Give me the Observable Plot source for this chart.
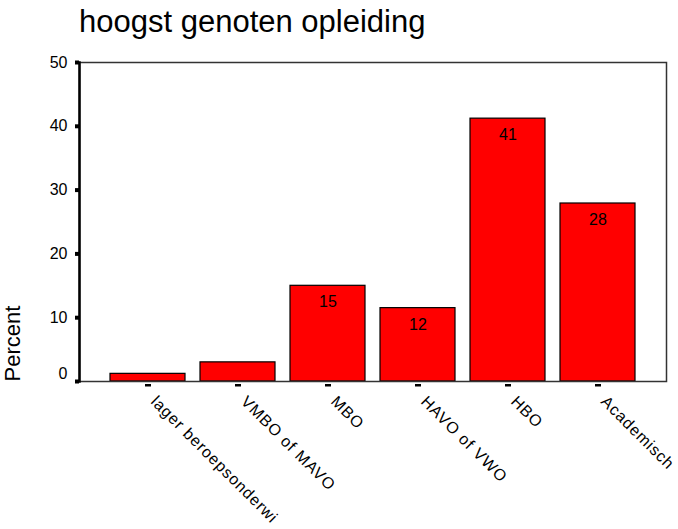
<!DOCTYPE html>
<html><head><meta charset="utf-8">
<script src="https://cdn.jsdelivr.net/npm/d3@7"></script>
<script src="https://cdn.jsdelivr.net/npm/@observablehq/plot@0.6"></script>
<style>
body{margin:0;background:#fff;}
#wrap{width:678px;height:529px;position:relative;overflow:hidden;font-family:"Liberation Sans",Arial,sans-serif;}
#title{height:50px;box-sizing:border-box;padding-left:79px;padding-top:6px;font-size:31px;line-height:31px;color:#000;white-space:nowrap;}
#chart svg{display:block;}
#chart svg g[aria-label="x-axis tick label"] text{letter-spacing:0.9px;}
</style></head><body>
<div id="wrap"><div id="title">hoogst genoten opleiding</div><div id="chart"></div></div>
<script>
const categories = ["lager beroepsonderwi", "VMBO of MAVO", "MBO", "HAVO of VWO", "HBO", "Academisch"];
const percents = [1.2, 3.0, 15.0, 11.5, 41.2, 27.9];
const valueLabels = ["", "", "15", "12", "41", "28"];
const yTicks = [0, 10, 20, 30, 40, 50];
const yTitle = "Percent";

const data = categories.map((c, i) => ({category: c, percent: percents[i], label: valueLabels[i]}));

const chart = Plot.plot({
  width: 678, height: 479,
  marginTop: 12, marginBottom: 148, marginLeft: 79, marginRight: 12,
  style: {fontFamily: "Liberation Sans, Arial, sans-serif", color: "#000", background: "#fff", overflow: "visible"},
  x: {domain: categories, paddingInner: 0.167, paddingOuter: 0.317, label: null},
  y: {domain: [0, 50], label: null},
  marks: [
    Plot.barY(data, {x: "category", y: "percent", fill: "#ff0000", stroke: "#000", strokeWidth: 1.2}),
    Plot.text(data, {x: "category", y: "percent", text: "label", lineAnchor: "top", dy: 10, fontSize: 16, fill: "#000"}),
    Plot.frame({stroke: "#333", strokeWidth: 1.5}),
    Plot.frame({anchor: "left", stroke: "#000", strokeWidth: 2.5}),
    Plot.axisY(yTicks, {tickSize: 4, strokeWidth: 4, tickFormat: () => "", label: null}),
    Plot.axisY(yTicks.filter(t => t > 0), {tickSize: 0, tickPadding: 12, fontSize: 16, label: null}),
    Plot.axisY(yTicks.filter(t => t === 0), {tickSize: 0, tickPadding: 12, fontSize: 16, dy: -8, label: null}),
    Plot.axisX({tickSize: 2.5, strokeWidth: 6, dy: 3, tickFormat: () => "", label: null}),
    Plot.axisX({tickSize: 0, tickPadding: 13, tickRotate: 45, textAnchor: "start", lineAnchor: "top", dx: 10, fontSize: 16, label: null}),
    Plot.text([yTitle], {frameAnchor: "bottom-left", rotate: -90, textAnchor: "start", dx: -60, fontSize: 22, fill: "#000"})
  ]
});
document.getElementById("chart").appendChild(chart);
</script>
</body></html>
